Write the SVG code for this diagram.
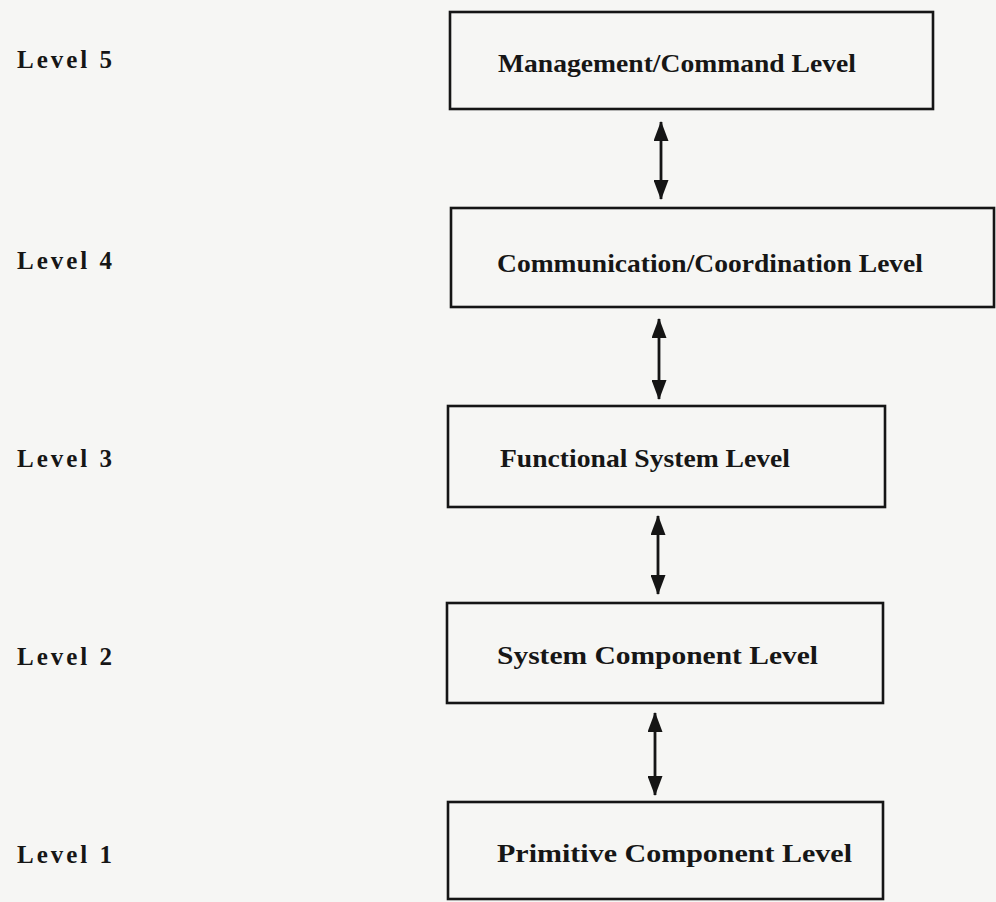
<svg xmlns="http://www.w3.org/2000/svg" width="996" height="902" viewBox="0 0 996 902">
  <style>
    .bg { fill: #f6f6f4; }
    .box { fill: none; stroke: #151515; stroke-width: 2.6; }
    .lbl { font-family: "Liberation Serif", "Times New Roman", serif; font-weight: bold; font-size: 26px; fill: #161616; }
    .cap { font-size: 25px; }
    .conn { stroke: #151515; stroke-width: 2.8; fill: none; marker-start: url(#head); marker-end: url(#head); }
  </style>
  <defs>
    <marker id="head" viewBox="0 0 20 15" refX="19" refY="7.5" markerWidth="20" markerHeight="15" markerUnits="userSpaceOnUse" orient="auto-start-reverse">
      <path d="M0,0 L20,7.5 L0,15 Z" fill="#151515"/>
    </marker>
  </defs>

  <rect class="bg" x="0" y="0" width="996" height="902"/>

  <!-- level captions -->
  <g id="level-captions">
    <text class="lbl cap" x="17" y="68" textLength="95" lengthAdjust="spacing">Level 5</text>
    <text class="lbl cap" x="17" y="269" textLength="95" lengthAdjust="spacing">Level 4</text>
    <text class="lbl cap" x="17" y="467" textLength="95" lengthAdjust="spacing">Level 3</text>
    <text class="lbl cap" x="17" y="665" textLength="95" lengthAdjust="spacing">Level 2</text>
    <text class="lbl cap" x="17" y="863" textLength="95" lengthAdjust="spacing">Level 1</text>
  </g>

  <!-- level boxes -->
  <g id="management-command">
    <rect class="box" x="450" y="12" width="483" height="97"/>
    <text class="lbl" x="498" y="72" textLength="358" lengthAdjust="spacingAndGlyphs">Management/Command Level</text>
  </g>
  <g id="communication-coordination">
    <rect class="box" x="451" y="208" width="543" height="99"/>
    <text class="lbl" x="497" y="272" textLength="426" lengthAdjust="spacingAndGlyphs">Communication/Coordination Level</text>
  </g>
  <g id="functional-system">
    <rect class="box" x="448" y="406" width="437" height="101"/>
    <text class="lbl" x="500" y="467" textLength="290" lengthAdjust="spacingAndGlyphs">Functional System Level</text>
  </g>
  <g id="system-component">
    <rect class="box" x="447" y="603" width="436" height="100"/>
    <text class="lbl" x="497" y="664" textLength="321" lengthAdjust="spacingAndGlyphs">System Component Level</text>
  </g>
  <g id="primitive-component">
    <rect class="box" x="448" y="802" width="435" height="97"/>
    <text class="lbl" x="497" y="862" textLength="355" lengthAdjust="spacingAndGlyphs">Primitive Component Level</text>
  </g>

  <!-- two-way links between adjacent levels -->
  <g id="connectors">
    <line class="conn" x1="661" y1="122" x2="661" y2="199"/>
    <line class="conn" x1="659" y1="319" x2="659" y2="399"/>
    <line class="conn" x1="658" y1="516" x2="658" y2="594"/>
    <line class="conn" x1="655" y1="713" x2="655" y2="795"/>
  </g>
</svg>
